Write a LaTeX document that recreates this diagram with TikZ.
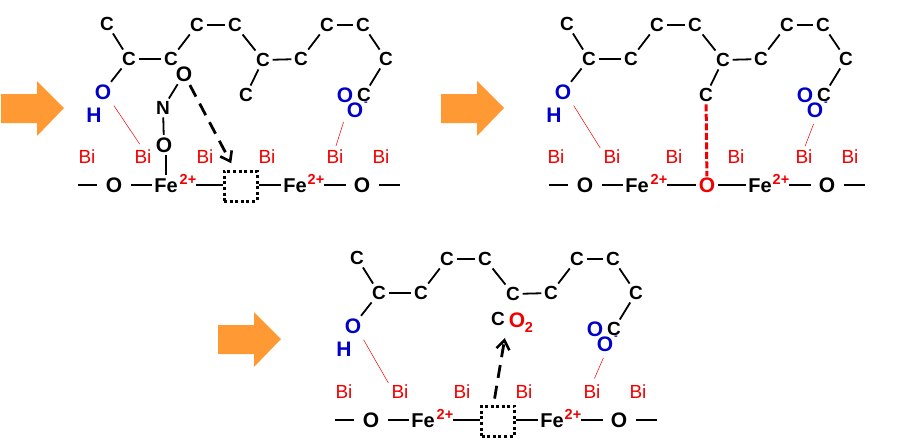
\documentclass[tikz,border=0pt]{standalone}
\usepackage{fontspec}
\setmainfont{Liberation Sans}
\usetikzlibrary{arrows.meta}

\definecolor{arrowcolor}{HTML}{FF9933}
\definecolor{oxblue}{HTML}{0000C8}
\definecolor{bired}{HTML}{F00000}

\tikzset{
  atom/.style={font=\bfseries\fontsize{19}{19}\selectfont, text height=13.5pt, text depth=0pt, inner sep=2.5pt},
  rowatom/.style={atom, font=\bfseries\fontsize{21}{21}\selectfont, text height=15pt},
  featom/.style={atom, font=\bfseries\fontsize{20}{20}\selectfont, text height=14pt},
  blueatom/.style={atom, text=oxblue, font=\bfseries\fontsize{21}{21}\selectfont, text height=15pt},
  bilabel/.style={text=bired, font=\fontsize{19}{19}\selectfont, text height=13.5pt, text depth=0pt, inner sep=1pt},
  charge/.style={text=bired, font=\bfseries\fontsize{14.5}{14.5}\selectfont, text height=10pt, text depth=0pt, inner sep=0pt},
  bond/.style={line width=1.8pt},
  rowbond/.style={line width=2.4pt},
  thinbond/.style={bired, line width=0.5pt},
  vacbox/.style={draw, line width=3pt, dash pattern=on 3pt off 2.6pt, minimum width=33pt, minimum height=30pt, inner sep=0pt},
  gobond/.style={-{Straight Barb[length=9pt,width=13pt,line width=2.6pt]}, line width=2.8pt, dash pattern=on 13pt off 8pt},
}

% Carbon chain, shared by the three sketches
\newcommand{\chainpart}{
  \node[atom] (ca) at (107,24) {C};
  \node[atom] (cb) at (129,59) {C};
  \node[atom] (cc) at (171,59) {C};
  \node[atom] (cd) at (197,25) {C};
  \node[atom] (ce) at (235,25) {C};
  \node[atom] (cf) at (263,60) {C};
  \node[atom] (cg) at (301,59) {C};
  \node[atom] (ch) at (327,25) {C};
  \node[atom] (ci) at (363,25) {C};
  \node[atom] (cj) at (386,59) {C};
  \node[atom] (ck) at (364,95) {C};
  \node[blueatom] (oh) at (103,92) {O};
  \node[blueatom] (hy) at (94,115) {H};
  \node[blueatom] (oa) at (345,95) {O};
  \node[blueatom] (ob) at (355,110) {O};
  \node[atom, text=oxblue, font=\bfseries\fontsize{11}{11}\selectfont, text height=6pt, inner sep=0pt] (obm) at (366,102) {-};
  \draw[bond] (ca) -- (cb);
  \draw[bond] (cb) -- (cc);
  \draw[bond] (cc) -- (cd);
  \draw[bond] (cd) -- (ce);
  \draw[bond] (ce) -- (cf);
  \draw[bond] (cf) -- (cg);
  \draw[bond] (cg) -- (ch);
  \draw[bond] (ch) -- (ci);
  \draw[bond] (ci) -- (cj);
  \draw[bond] (cj) -- (ck);
  \draw[bond] (cb) -- (oh);
}

% Oxide row: #1 the middle node, #2 and #3 nudge its left and right parts
\newcommand{\rowpart}[3]{
  \node[bilabel] (bia) at (87,157) {Bi};
  \node[bilabel] (bib) at (143,157) {Bi};
  \node[bilabel] (bic) at (205,157) {Bi};
  \node[bilabel] (bid) at (267,157) {Bi};
  \node[bilabel] (bie) at (335,157) {Bi};
  \node[bilabel] (bif) at (381,157) {Bi};
  \coordinate (la) at ([xshift=#2pt]78,185);
  \node[rowatom] (oa) at ([xshift=#2pt]114,185) {O};
  \node[featom] (fea) at ([xshift=#2pt]166,185) {Fe};
  \node[charge] (sa) at ([xshift=#2pt]188,179) {2+};
  #1
  \node[featom] (feb) at ([xshift=#3pt]295,185) {Fe};
  \node[charge] (sb) at ([xshift=#3pt]316,179) {2+};
  \node[rowatom] (oc) at ([xshift=#3pt]362,185) {O};
  \coordinate (lb) at ([xshift=#3pt]400,185);
  \draw[rowbond, shorten >=6pt] (la) -- (oa);
  \draw[rowbond, shorten <=6pt] (oa) -- (fea);
  \draw[rowbond] (sa.east |- fea) -- (fea -| mid.west);
  \draw[rowbond] (fea -| mid.east) -- (feb);
  \draw[rowbond] (sb.east |- feb) -- ([xshift=-5pt]oc.west);
  \draw[rowbond, shorten <=6pt] (oc) -- (lb);
}

\newcommand{\bigarrow}[1]{
  \fill[arrowcolor, shift={#1}] (1,94) -- (37,94) -- (37,81) -- (64,108) -- (37,136) -- (37,123) -- (1,123) -- cycle;
}

\begin{document}
\begin{tikzpicture}[x=1pt,y=-1pt]
\useasboundingbox (0,0) rectangle (898,442);

% Arrows
\bigarrow{(0,0)}
\bigarrow{(440,0)}
\bigarrow{(217,231)}

% First sketch
\begin{scope}[name prefix=a-]
\chainpart
\node[atom] (cl) at (246,95) {C};
\node[rowatom] (oe) at (184,74) {O};
\node[atom] (ni) at (163,108) {N};
\node[rowatom] (of) at (164,145) {O};
\draw[bond] (cf) -- (cl);
\draw[bond] (oe) -- (ni);
\draw[bond] (ni) -- (of);
\end{scope}
\begin{scope}[name prefix=ar-]
\rowpart{\node[vacbox] (mid) at (240.5,186) {};}{0}{0}
\end{scope}
\draw[bond] (a-of.south -| ar-fea) -- (ar-fea);
\draw[thinbond, shorten <=4pt, shorten >=6pt] (a-oh.-50) -- (ar-bib.north);
\draw[thinbond, shorten <=2pt, shorten >=3pt] (a-ob.south west) -- (ar-bie.north);
\draw[gobond, shorten <=1pt, shorten >=7pt] (a-oe) -- (ar-mid.110);

% Second sketch
\begin{scope}[shift={(460,0)}, name prefix=b-]
\chainpart
\node[atom] (cl) at (246,95) {C};
\draw[bond] (cf) -- (cl);
\end{scope}
\begin{scope}[shift={(469,0)}, name prefix=br-]
\rowpart{\node[rowatom, text=bired, inner sep=3pt] (mid) at (238,185) {O};}{2}{-4}
\end{scope}
\draw[thinbond, shorten <=4pt, shorten >=4pt] (b-oh.-50) -- (br-bib.150);
\draw[thinbond, shorten <=4pt, shorten >=3pt] (b-ob.south) -- (br-bie.north);
\draw[bired, line width=3pt, dash pattern=on 7pt off 2.5pt, shorten >=-2pt] (b-cl) -- (br-mid);

% Third sketch
\begin{scope}[shift={(250,234)}, name prefix=c-]
\chainpart
\node[atom] (cl) at (248,85) {C};
\node[rowatom, text=bired] (ox) at (267,86) {O};
\node[charge] (ox2) at (279,93) {2};
\end{scope}
\begin{scope}[shift={(257,235)}, name prefix=cr-]
\rowpart{\node[vacbox] (mid) at (241,186) {};}{0}{0}
\end{scope}
\draw[thinbond, shorten <=4pt, shorten >=4pt] (c-oh.-50) -- (cr-bib.150);
\draw[thinbond, shorten <=4pt, shorten >=6pt] (c-ob.south) -- (cr-bie.north);
\draw[gobond, shorten <=6pt, shorten >=8pt] (cr-mid.105) -- (c-ox.south west);
\end{tikzpicture}
\end{document}
